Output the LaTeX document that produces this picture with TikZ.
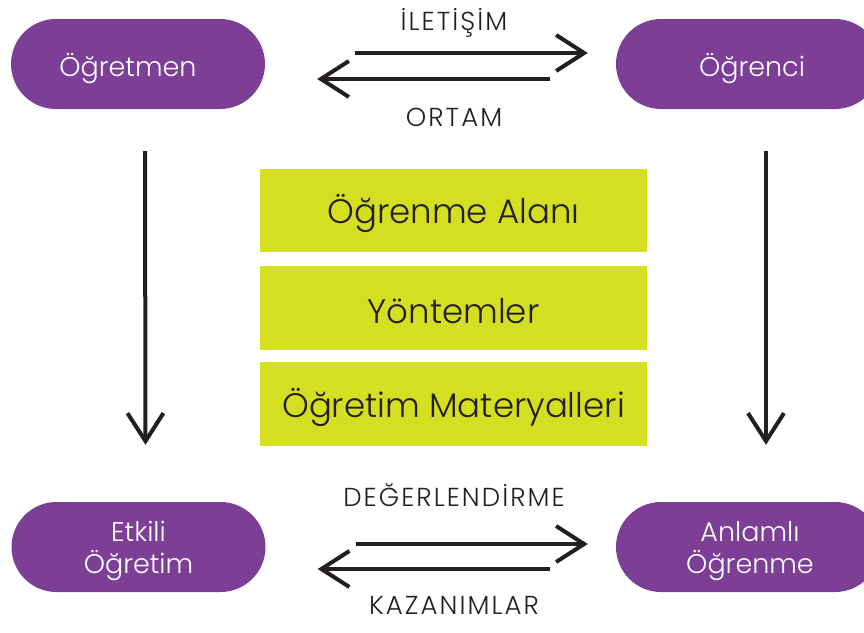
\documentclass[tikz,border=0pt]{standalone}
\usepackage{fontspec}
\setmainfont{Poppins Light}
\newfontfamily\lblfont{Poppins Light}[LetterSpace=8]
\usetikzlibrary{arrows.meta,shapes.misc}
\definecolor{purp}{HTML}{7D3E96}
\definecolor{lime}{HTML}{D5DF22}
\definecolor{ink}{HTML}{231F20}
\tikzset{
  pill/.style={rounded rectangle, fill=purp, minimum height=90pt, inner sep=0pt},
  ptext/.style={text=white, inner sep=0pt, align=center, font=\fontsize{27}{32}\selectfont},
  gbox/.style={rectangle, fill=lime, minimum width=387pt, inner sep=0pt},
  gtext/.style={text=ink, inner sep=0pt, font=\fontsize{34}{40}\selectfont},
  lbl/.style={text=ink, inner sep=0pt, font=\lblfont\fontsize{26}{30}\selectfont},
  arr/.style={draw=ink, line width=4pt, -{Straight Barb[length=28pt,width=36pt,line width=4pt]}}
}
\begin{document}
\begin{tikzpicture}[x=1pt,y=-1pt]
\useasboundingbox (0,0) rectangle (864,632);
\node[pill, minimum width=254pt] (t1) at (138,64) {};
\node[pill, minimum width=264pt] (t2) at (748,64) {};
\node[pill, minimum width=254pt] (b1) at (138.5,547) {};
\node[pill, minimum width=264pt] (b2) at (748,547) {};
\node[ptext] (t1t) at ([xshift=-10pt,yshift=-5pt]t1.center) {Öğretmen};
\node[ptext] (t2t) at ([xshift=4pt,yshift=-5pt]t2.center) {Öğrenci};
\node[ptext] (b1t) at ([xshift=0pt,yshift=-4pt]b1.center) {Etkili\\Öğretim};
\node[ptext] (b2t) at ([xshift=2pt,yshift=-4pt]b2.center) {Anlamlı\\Öğrenme};
\node[gbox, minimum height=83pt] (g1) at (453.5,210.5) {};
\node[gbox, minimum height=84pt] (g2) at (453.5,308) {};
\node[gbox, minimum height=84pt] (g3) at (453.5,404) {};
\node[gtext] (g1t) at ([yshift=-3pt]g1.center) {Öğrenme Alanı};
\node[gtext] (g2t) at ([yshift=-3pt]g2.center) {Yöntemler};
\node[gtext] (g3t) at ([yshift=-3pt]g3.center) {Öğretim Materyalleri};
\node[lbl] (l1) at (454,23) {İLETİŞİM};
\node[lbl] (l2) at (454,117) {ORTAM};
\node[lbl] (l3) at (454,495) {DEĞERLENDİRME};
\node[lbl] (l4) at (454,605) {KAZANIMLAR};
\draw[arr] ([xshift=90pt,yshift=11pt]t1.east) -- ([xshift=-28pt,yshift=11pt]t2.west);
\draw[arr] ([xshift=-66pt,yshift=-15pt]t2.west) -- ([xshift=52pt,yshift=-15pt]t1.east);
\draw[arr] ([xshift=90pt,yshift=3pt]b1.east) -- ([xshift=-28pt,yshift=3pt]b2.west);
\draw[arr] ([xshift=-66pt,yshift=-22pt]b2.west) -- ([xshift=52pt,yshift=-22pt]b1.east);
\draw[arr] ([xshift=7pt,yshift=-42pt]t1.south) -- ([xshift=7pt,yshift=57pt]b1.north);
\draw[arr] ([xshift=18pt,yshift=-42pt]t2.south) -- ([xshift=18pt,yshift=57pt]b2.north);
\end{tikzpicture}
\end{document}
